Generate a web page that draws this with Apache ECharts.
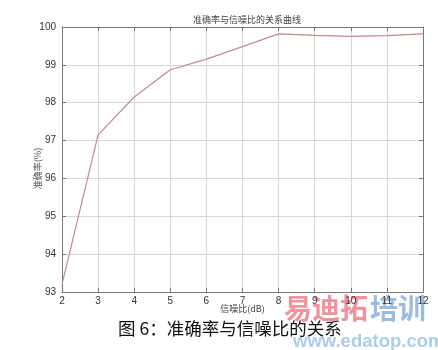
<!DOCTYPE html>
<html><head><meta charset="utf-8">
<script src="https://cdn.jsdelivr.net/npm/echarts@6/dist/echarts.min.js"></script>
<style>html,body{margin:0;padding:0;background:#fff}#c{width:438px;height:350px}</style>
</head><body><div id="c"></div>
<script>
const snr = [2,3,4,5,6,7,8,9,10,11,12];
const accuracy = [93.2,97.15,98.15,98.87,99.15,99.48,99.82,99.78,99.75,99.77,99.82];
const titleText = '准确率与信噪比的关系曲线';
const xName = '信噪比(dB)';
const yName = '准确率(%)';
const caption = '图 6：准确率与信噪比的关系';

const chart = echarts.init(document.getElementById('c'));
const axisCommon = {
  axisLine:{show:true,lineStyle:{color:'#777',width:1}},
  axisTick:{show:true,inside:true,length:4,lineStyle:{color:'#777'}},
  splitLine:{show:false}
};
chart.setOption({
  backgroundColor:'#fff',
  animation:false,
  title:{text:titleText,left:242,top:10,textAlign:'center',
    textStyle:{fontSize:9,fontWeight:'normal',color:'#444',fontFamily:'Noto Sans CJK SC'}},
  grid:{left:62,right:15,top:27,bottom:58},
  xAxis:[{
    type:'value',min:2,max:12,interval:1,
    name:xName,nameLocation:'middle',nameGap:12,nameMoveOverlap:false,
    nameTextStyle:{fontSize:9,color:'#444',fontFamily:'Noto Sans CJK SC'},
    axisLabel:{fontSize:10,color:'#333',margin:4,fontFamily:'Arial, Liberation Sans'},
    ...axisCommon,
    splitLine:{show:true,lineStyle:{color:'#d8d8d8',width:1}}
  },{
    type:'value',min:2,max:12,interval:1,position:'top',
    axisLabel:{show:false},...axisCommon
  }],
  yAxis:[{
    type:'value',min:93,max:100,interval:1,
    name:yName,nameLocation:'middle',nameGap:20,nameMoveOverlap:false,
    nameTextStyle:{fontSize:9,color:'#555',fontFamily:'Noto Sans CJK SC',padding:[0,18,0,0]},
    axisLabel:{fontSize:10,color:'#333',margin:6,fontFamily:'Arial, Liberation Sans'},
    ...axisCommon,
    splitLine:{show:true,lineStyle:{color:'#d8d8d8',width:1}}
  },{
    type:'value',min:93,max:100,interval:1,position:'right',
    axisLabel:{show:false},...axisCommon
  }],
  series:[{
    type:'line',data:snr.map((x,i)=>[x,accuracy[i]]),
    showSymbol:false,lineStyle:{color:'#c48a8e',width:1.2}
  }],
  graphic:[
    {type:'text',left:118,top:320,style:{text:caption,fontSize:17.5,fill:'#111',
      fontFamily:'Noto Sans CJK SC'}},
    {type:'text',left:284,top:294,style:{text:'易迪拓',fontSize:28,fontWeight:'bold',fill:'rgba(228,90,105,0.65)',
      fontFamily:'Noto Sans CJK SC'}},
    {type:'text',left:370,top:294,style:{text:'培训',fontSize:28,fontWeight:'bold',fill:'rgba(100,150,210,0.65)',
      fontFamily:'Noto Sans CJK SC'}},
    {type:'text',left:293,top:332,style:{text:'www.edatop.com',fontSize:18.5,fontWeight:'bold',fill:'rgba(120,170,220,0.6)',
      fontFamily:'Arial, Liberation Sans'}}
  ]
});
</script></body></html>
